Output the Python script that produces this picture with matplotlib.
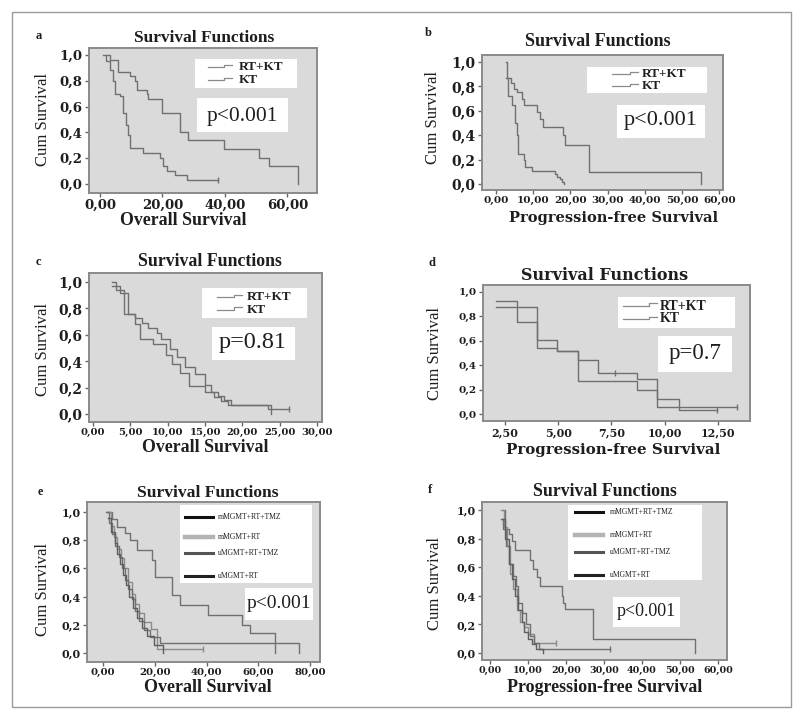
import matplotlib
matplotlib.use("Agg")
import matplotlib.pyplot as plt
from matplotlib.lines import Line2D
from matplotlib.patches import Rectangle

# ---- data (time, survival after step) ----
a_rtkt_t = [1.9, 3.2, 5.9, 9.6, 11.2, 11.8, 15.0, 15.5, 19.8, 25.6, 28.3, 39.7, 51.0, 54.0, 63.4]
a_rtkt_s = [1.0, 0.96, 0.87, 0.84, 0.80, 0.73, 0.70, 0.66, 0.55, 0.40, 0.34, 0.27, 0.20, 0.14, 0.0]
a_kt_t = [1.0, 1.9, 3.2, 4.3, 4.8, 6.4, 7.5, 8.3, 9.1, 9.6, 13.9, 19.2, 20.3, 21.4, 24.0, 27.8, 37.9]
a_kt_s = [1.0, 0.95, 0.88, 0.80, 0.70, 0.68, 0.55, 0.46, 0.38, 0.28, 0.24, 0.20, 0.14, 0.10, 0.07, 0.03, 0.03]

b_rtkt_t = [2.7, 3.0, 3.9, 4.8, 5.7, 7.0, 7.4, 11.0, 11.8, 12.6, 18.1, 18.6, 25.0, 55.2]
b_rtkt_s = [1.0, 0.87, 0.83, 0.78, 0.75, 0.70, 0.65, 0.59, 0.53, 0.47, 0.40, 0.32, 0.10, 0.0]
b_kt_t = [2.7, 3.3, 4.2, 5.1, 5.6, 6.0, 7.4, 7.8, 9.6, 15.9, 16.5, 17.1, 17.7, 18.4]
b_kt_s = [0.87, 0.72, 0.65, 0.50, 0.40, 0.25, 0.20, 0.14, 0.11, 0.08, 0.06, 0.04, 0.02, 0.0]

c_rtkt_t = [2.6, 3.6, 4.7, 5.6, 6.5, 7.4, 8.5, 9.1, 10.3, 11.2, 12.3, 13.6, 15.0, 15.8, 16.7, 17.6, 18.5, 23.4, 26.3]
c_rtkt_s = [0.97, 0.92, 0.76, 0.73, 0.69, 0.65, 0.61, 0.57, 0.49, 0.43, 0.36, 0.30, 0.22, 0.17, 0.14, 0.11, 0.07, 0.04, 0.04]
c_kt_t = [2.6, 3.1, 4.2, 5.6, 6.3, 8.0, 9.8, 10.6, 11.6, 12.9, 15.0, 16.2, 17.2, 18.1, 23.8]
c_kt_s = [1.0, 0.94, 0.76, 0.68, 0.57, 0.53, 0.45, 0.38, 0.31, 0.21, 0.17, 0.13, 0.10, 0.07, 0.0]

d_rtkt_t = [2.1, 3.06, 4.0, 4.94, 5.93, 8.7, 9.64, 13.4]
d_rtkt_s = [0.93, 0.75, 0.54, 0.52, 0.27, 0.20, 0.057, 0.057]
d_kt_t = [2.1, 4.0, 4.94, 5.93, 6.87, 8.7, 9.64, 10.66, 12.46]
d_kt_s = [0.88, 0.61, 0.52, 0.44, 0.34, 0.29, 0.12, 0.03, 0.03]

e_m_rt_tmz_t = [1.4, 3.4, 5.3, 8.5, 10.4, 13.0, 18.8, 20.1, 26.5, 29.7, 40.7, 53.5, 56.8, 66.4]
e_m_rt_tmz_s = [1.0, 0.95, 0.89, 0.85, 0.80, 0.73, 0.66, 0.54, 0.41, 0.34, 0.27, 0.20, 0.14, 0.0]
e_m_rt_t = [1.8, 3.0, 4.2, 5.5, 6.8, 8.0, 9.5, 11.0, 12.5, 14.0, 16.0, 18.5, 21.0, 38.7]
e_m_rt_s = [1.0, 0.90, 0.82, 0.74, 0.67, 0.60, 0.50, 0.42, 0.35, 0.28, 0.22, 0.17, 0.03, 0.03]
e_u_rt_tmz_t = [1.2, 2.4, 3.6, 4.8, 6.0, 7.2, 8.4, 9.6, 11.0, 12.5, 14.0, 16.0, 18.0, 22.0, 75.5]
e_u_rt_tmz_s = [1.0, 0.92, 0.84, 0.76, 0.68, 0.60, 0.52, 0.45, 0.38, 0.30, 0.23, 0.16, 0.11, 0.07, 0.0]
e_u_rt_t = [2.0, 3.2, 4.5, 5.5, 6.5, 7.8, 9.0, 10.2, 11.5, 13.0, 15.0, 17.0, 19.5, 23.2]
e_u_rt_s = [0.96, 0.86, 0.78, 0.70, 0.63, 0.55, 0.48, 0.40, 0.32, 0.25, 0.18, 0.12, 0.06, 0.0]

f_m_rt_tmz_t = [3.5, 4.0, 5.0, 5.9, 6.6, 10.5, 11.4, 12.3, 13.2, 18.9, 19.3, 19.7, 27.0, 54.0]
f_m_rt_tmz_s = [1.0, 0.87, 0.83, 0.78, 0.72, 0.65, 0.59, 0.53, 0.47, 0.40, 0.35, 0.31, 0.10, 0.0]
f_m_rt_t = [3.0, 3.6, 4.5, 5.3, 6.0, 7.0, 8.0, 9.0, 10.0, 11.5, 17.5]
f_m_rt_s = [1.0, 0.88, 0.75, 0.55, 0.45, 0.30, 0.22, 0.18, 0.13, 0.07, 0.07]
f_u_rt_tmz_t = [3.0, 3.5, 4.2, 5.0, 6.0, 6.8, 7.5, 8.5, 9.5, 10.5, 11.5, 13.0, 31.6]
f_u_rt_tmz_s = [0.94, 0.87, 0.75, 0.62, 0.54, 0.47, 0.35, 0.28, 0.20, 0.12, 0.07, 0.03, 0.03]
f_u_rt_t = [3.2, 4.0, 5.0, 5.8, 6.5, 7.5, 8.5, 9.0, 10.0, 11.0, 12.0, 14.0]
f_u_rt_s = [0.94, 0.80, 0.62, 0.52, 0.40, 0.30, 0.22, 0.15, 0.10, 0.06, 0.03, 0.0]

y_ticks = [0.0, 0.2, 0.4, 0.6, 0.8, 1.0]
two_groups = ["RT+KT", "KT"]
four_groups = ["mMGMT+RT+TMZ", "mMGMT+RT", "uMGMT+RT+TMZ", "uMGMT+RT"]

W, H = 798, 711
SERIF = ["Liberation Serif", "DejaVu Serif"]
WIDE = ["DejaVu Serif"]
CURVE = "#707070"
BG = "#dadada"
INK = "#1e1e1e"

fig = plt.figure(figsize=(W / 100, H / 100), dpi=100)
fig.patch.set_facecolor("white")


def fx(x):
    return x / W


def fy(y):
    return 1 - y / H


def ftext(x, y, s, **kw):
    kw.setdefault("family", SERIF)
    kw.setdefault("color", INK)
    fig.text(fx(x), fy(y), s, ha=kw.pop("ha", "center"), va=kw.pop("va", "center"), **kw)


def white_box(x0, y0, x1, y1):
    fig.add_artist(Rectangle((fx(x0), fy(y1)), (x1 - x0) / W, (y1 - y0) / H,
                             transform=fig.transFigure, facecolor="white", edgecolor="none", zorder=5))


def panel(box, xlim, ylim, xticks, xfmt, xsize, ysize):
    x0, y0, x1, y1 = box
    ax = fig.add_axes([fx(x0), fy(y1), (x1 - x0) / W, (y1 - y0) / H])
    ax.set_facecolor(BG)
    ax.set_xlim(*xlim)
    ax.set_ylim(*ylim)
    ax.set_xticks(xticks)
    ax.set_xticklabels([xfmt.format(v).replace(".", ",") for v in xticks],
                       fontsize=xsize, fontweight="bold", family=WIDE, color=INK)
    ax.set_yticks(y_ticks)
    ax.set_yticklabels(["{:.1f}".format(v).replace(".", ",") for v in y_ticks],
                       fontsize=ysize, fontweight="bold", family=WIDE, color=INK)
    for sp in ax.spines.values():
        sp.set_color("#8a8a8a")
        sp.set_linewidth(1.4)
    ax.tick_params(colors="#666666", length=3, width=1, pad=1.5, labelcolor=INK)
    return ax


def km(ax, t, s, color=CURVE, lw=1.0):
    ax.step(t, s, where="post", color=color, lw=lw)
    if s[-1] > 0:
        ax.plot([t[-1]], [s[-1]], marker="|", color=color, ms=5, mew=1)


def legend2(x_line, x_text, rows, size):
    for (y, lab) in zip(rows, two_groups):
        xs = [x_line[0], x_line[1] - 8, x_line[1] - 8, x_line[1]]
        ys = [y, y, y - 2.5, y - 2.5]
        fig.add_artist(Line2D([fx(v) for v in xs], [fy(v) for v in ys], transform=fig.transFigure,
                              color="#8a8a8a", lw=0.9, zorder=6))
        ftext(x_text, y, lab, ha="left", fontsize=size, fontweight="bold", zorder=7)


def legend4(x_line, x_text, rows):
    styles = [("#111111", 2.2), ("#b4b4b4", 3.2), ("#555555", 2.2), ("#222222", 2.2)]
    for (y, lab, (c, lw)) in zip(rows, four_groups, styles):
        fig.add_artist(Line2D([fx(x_line[0]), fx(x_line[1])], [fy(y), fy(y)], transform=fig.transFigure,
                              color=c, lw=lw, zorder=6))
        ftext(x_text, y, lab, ha="left", fontsize=5.5, zorder=7)


# outer frame
fig.add_artist(Rectangle((fx(12), fy(707)), (791 - 12) / W, (707 - 12) / H, transform=fig.transFigure,
                         facecolor="none", edgecolor="#9a9a9a", lw=1.0))

# ---- panel a ----
ax = panel((89, 48, 317, 193), (-3.5, 69.5), (-0.07, 1.054), [0, 20, 40, 60], "{:.2f}", 9.5, 9.5)
km(ax, a_rtkt_t, a_rtkt_s)
km(ax, a_kt_t, a_kt_s)
ftext(39, 36, "a", fontsize=9, fontweight="bold")
ftext(204, 38, "Survival Functions", fontsize=12.5, fontweight="bold")
ftext(183, 220, "Overall Survival", fontsize=12.8, fontweight="bold")
ftext(43, 120, "Cum Survival", fontsize=12, rotation=90)
white_box(195, 59, 297, 88)
legend2((208, 232), 239, [67, 80], 9.5)
white_box(197, 98, 288, 132)
ftext(242, 116, "p<0.001", fontsize=15.5, zorder=7)

# ---- panel b ----
ax = panel((482, 55, 723, 190), (-3.76, 61.0), (-0.049, 1.057), [0, 10, 20, 30, 40, 50, 60], "{:.2f}", 7.5, 10)
km(ax, b_rtkt_t, b_rtkt_s)
km(ax, b_kt_t, b_kt_s)
ftext(428, 33, "b", fontsize=9, fontweight="bold")
ftext(598, 42, "Survival Functions", fontsize=13, fontweight="bold")
ftext(614, 218, "Progression-free Survival", fontsize=10.5, fontweight="bold", family=WIDE)
ftext(433, 117, "Cum Survival", fontsize=12, rotation=90)
white_box(587, 67, 707, 93)
legend2((612, 638), 642, [74, 86], 9.5)
white_box(617, 105, 705, 138)
ftext(661, 121, "p<0.001", fontsize=16, zorder=7)

# ---- panel c ----
ax = panel((89, 273, 322, 422), (-0.54, 30.66), (-0.06, 1.068), [0, 5, 10, 15, 20, 25, 30], "{:.2f}", 7.2, 10)
km(ax, c_rtkt_t, c_rtkt_s)
km(ax, c_kt_t, c_kt_s)
ftext(38, 262, "c", fontsize=9, fontweight="bold")
ftext(210, 262, "Survival Functions", fontsize=12.8, fontweight="bold")
ftext(205, 447, "Overall Survival", fontsize=12.8, fontweight="bold")
ftext(43, 350, "Cum Survival", fontsize=12, rotation=90)
white_box(202, 288, 307, 318)
legend2((217, 242), 247, [297, 310], 9.5)
white_box(212, 327, 295, 360)
ftext(253, 343, "p=0.81", fontsize=17.5, zorder=7)

# ---- panel d ----
ax = panel((483, 285, 750, 421), (1.47, 14.0), (-0.057, 1.057), [2.5, 5.0, 7.5, 10.0, 12.5], "{:.2f}", 8, 7.5)
km(ax, d_rtkt_t, d_rtkt_s)
km(ax, d_kt_t, d_kt_s)
ax.plot([7.68], [0.34], marker="|", color=CURVE, ms=5, mew=1)
ftext(432, 263, "d", fontsize=9, fontweight="bold")
ftext(605, 276, "Survival Functions", fontsize=11.5, fontweight="bold", family=WIDE)
ftext(613, 450, "Progression-free Survival", fontsize=10.8, fontweight="bold", family=WIDE)
ftext(435, 353, "Cum Survival", fontsize=12, rotation=90)
white_box(618, 297, 735, 328)
legend2((623, 657), 660, [306, 319], 10)
white_box(658, 336, 732, 372)
ftext(695, 354, "p=0.7", fontsize=16.5, zorder=7)

# ---- panel e ----
ax = panel((87, 502, 320, 662), (-6.2, 83.8), (-0.064, 1.07), [0, 20, 40, 60, 80], "{:.2f}", 7.3, 8)
km(ax, e_m_rt_tmz_t, e_m_rt_tmz_s)
km(ax, e_m_rt_t, e_m_rt_s, color="#8c8c8c")
km(ax, e_u_rt_tmz_t, e_u_rt_tmz_s)
km(ax, e_u_rt_t, e_u_rt_s, color="#5e5e5e")
ftext(40, 492, "e", fontsize=9, fontweight="bold")
ftext(208, 493, "Survival Functions", fontsize=12.6, fontweight="bold")
ftext(208, 688, "Overall Survival", fontsize=13, fontweight="bold")
ftext(43, 590, "Cum Survival", fontsize=12, rotation=90)
white_box(180, 505, 312, 583)
legend4((185, 213), 218, [517, 537, 553, 576])
white_box(245, 588, 313, 620)
ftext(279, 604, "p<0.001", fontsize=14, zorder=7)

# ---- panel f ----
ax = panel((482, 502, 727, 660), (-2.1, 62.4), (-0.049, 1.056), [0, 10, 20, 30, 40, 50, 60], "{:.2f}", 6.8, 8)
km(ax, f_m_rt_tmz_t, f_m_rt_tmz_s)
km(ax, f_m_rt_t, f_m_rt_s, color="#8c8c8c")
km(ax, f_u_rt_tmz_t, f_u_rt_tmz_s)
km(ax, f_u_rt_t, f_u_rt_s, color="#5e5e5e")
ftext(430, 490, "f", fontsize=9, fontweight="bold")
ftext(605, 492, "Survival Functions", fontsize=12.8, fontweight="bold")
ftext(605, 687, "Progression-free Survival", fontsize=13, fontweight="bold")
ftext(435, 583, "Cum Survival", fontsize=12, rotation=90)
white_box(568, 505, 702, 580)
legend4((575, 603), 610, [512, 535, 552, 575])
white_box(613, 597, 680, 627)
ftext(646, 612, "p<0.001", fontsize=13, zorder=7)

fig.savefig("out.png", dpi=100)
